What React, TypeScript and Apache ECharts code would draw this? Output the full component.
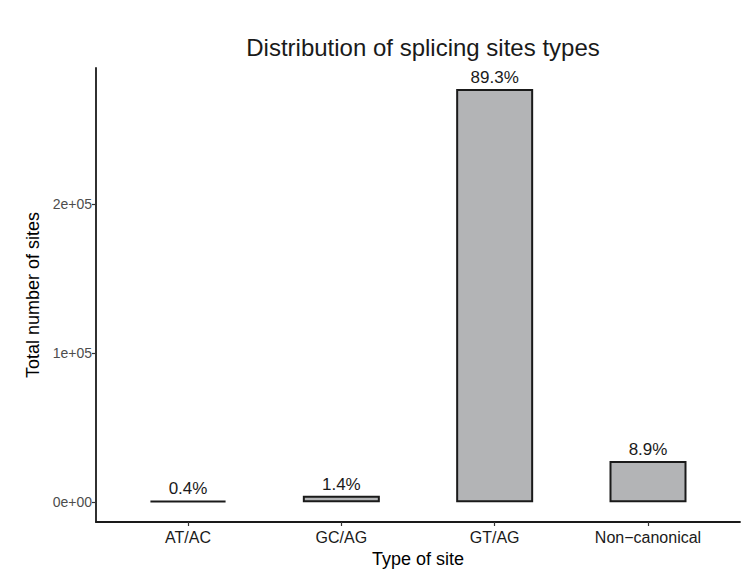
import React, { useEffect, useRef } from "react";
import * as echarts from "echarts";

const categories = ["AT/AC", "GC/AG", "GT/AG", "Non\u2212canonical"];
const siteCounts = [1240, 4350, 277200, 27630];
const percentLabels = ["0.4%", "1.4%", "89.3%", "8.9%"];
const yTickValues = [0, 100000, 200000];
const yTickLabels = ["0e+00", "1e+05", "2e+05"];
const xPositions = [1, 2, 3, 4];

export default function App() {
  const ref = useRef<HTMLDivElement>(null);
  useEffect(() => {
    if (!ref.current) return;
    const chart = echarts.init(ref.current, undefined, { renderer: "svg" });
    const font = "'Liberation Sans', Arial, sans-serif";
    chart.setOption({
      animation: false,
      backgroundColor: "#ffffff",
      textStyle: { fontFamily: font },
      title: {
        text: "Distribution of splicing sites types",
        left: 418,
        textAlign: "center",
        top: 30,
        textStyle: { fontSize: 24, fontWeight: "normal", color: "#1a1a1a", fontFamily: font },
      },
      grid: { left: 96, top: 68, right: 9, bottom: 53, containLabel: false },
      xAxis: {
        type: "value",
        min: 0.4,
        max: 4.6,
        name: "Type of site",
        nameLocation: "middle",
        nameGap: 27,
        nameTextStyle: { fontSize: 18, color: "#000", fontFamily: font },
        splitLine: { show: false },
        axisLine: { show: true, onZero: false, lineStyle: { color: "#1a1a1a", width: 1.8 } },
        axisTick: { show: true, length: 4, customValues: xPositions, lineStyle: { color: "#333", width: 1.2 } },
        axisLabel: {
          customValues: xPositions,
          formatter: (v: number) => categories[Math.round(v) - 1] ?? "",
          fontSize: 16,
          color: "#1a1a1a",
          margin: 7,
          fontFamily: font,
        },
      },
      yAxis: {
        type: "value",
        min: -13200,
        max: 291300,
        name: "Total number of sites",
        nameLocation: "middle",
        nameGap: 51,
        nameRotate: 90,
        nameTextStyle: { fontSize: 18, color: "#000", fontFamily: font },
        splitLine: { show: false },
        axisLine: { show: true, onZero: false, lineStyle: { color: "#1a1a1a", width: 1.8 } },
        axisTick: { show: true, length: 4, customValues: yTickValues, lineStyle: { color: "#333", width: 1.2 } },
        axisLabel: {
          customValues: yTickValues,
          formatter: (v: number) => {
            const i = yTickValues.indexOf(v);
            return i >= 0 ? yTickLabels[i] : "";
          },
          fontSize: 14,
          color: "#4d4d4d",
          margin: 4,
          fontFamily: font,
        },
      },
      series: [
        {
          type: "bar",
          barWidth: 77,
          data: siteCounts.map((v, i) => [xPositions[i], v]),
          itemStyle: { color: "#b3b4b6", borderColor: "#1a1a1a", borderWidth: 2 },
          label: {
            show: true,
            position: "top",
            distance: 3,
            formatter: (p: any) => percentLabels[p.dataIndex],
            fontSize: 17,
            color: "#1a1a1a",
            fontFamily: font,
          },
        },
      ],
    });
    return () => chart.dispose();
  }, []);
  return (
    <div
      ref={ref}
      style={{ position: "fixed", left: 0, top: 0, width: 749, height: 575 }}
    />
  );
}
